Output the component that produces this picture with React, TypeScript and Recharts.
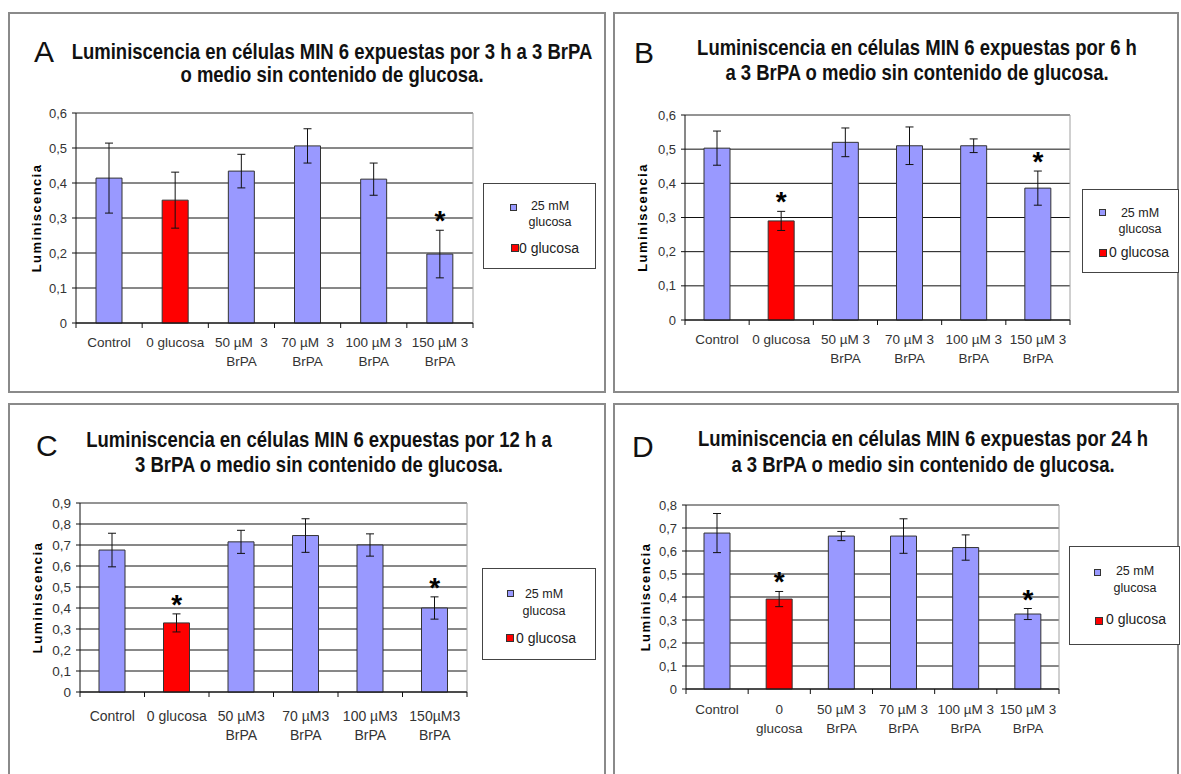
import React from 'react';
import { ComposedChart, Bar, Cell, ErrorBar, Line, XAxis, YAxis, CartesianGrid, ReferenceLine } from 'recharts';

const FONT = '"Liberation Sans", Arial, Helvetica, sans-serif';
const BLUE = '#9999ff';
const RED = '#ff0000';

// which series each bar belongs to (same order in every panel)
const groups = ['25 mM glucosa', '0 glucosa', '25 mM glucosa', '25 mM glucosa', '25 mM glucosa', '25 mM glucosa'];

// panel A - 3 h
const catsA = ['Control', '0 glucosa', '50 µM  3\nBrPA', '70 µM  3\nBrPA', '100 µM 3\nBrPA', '150 µM 3\nBrPA'];
const valsA = [0.414, 0.351, 0.434, 0.506, 0.411, 0.197];
const errA = [0.1, 0.08, 0.048, 0.049, 0.046, 0.068];
const starsA = [false, false, false, false, false, true];
const yTicksA = [0, 0.1, 0.2, 0.3, 0.4, 0.5, 0.6];

// panel B - 6 h
const catsB = ['Control', '0 glucosa', '50 µM 3\nBrPA', '70 µM 3\nBrPA', '100 µM 3\nBrPA', '150 µM 3\nBrPA'];
const valsB = [0.503, 0.29, 0.52, 0.51, 0.51, 0.386];
const errB = [0.05, 0.028, 0.042, 0.055, 0.02, 0.05];
const starsB = [false, true, false, false, false, true];
const yTicksB = [0, 0.1, 0.2, 0.3, 0.4, 0.5, 0.6];

// panel C - 12 h
const catsC = ['Control', '0 glucosa', '50 µM3\nBrPA', '70 µM3\nBrPA', '100 µM3\nBrPA', '150µM3\nBrPA'];
const valsC = [0.676, 0.329, 0.715, 0.745, 0.7, 0.4];
const errC = [0.08, 0.043, 0.055, 0.08, 0.053, 0.053];
const starsC = [false, true, false, false, false, true];
const yTicksC = [0, 0.1, 0.2, 0.3, 0.4, 0.5, 0.6, 0.7, 0.8, 0.9];

// panel D - 24 h
const catsD = ['Control', '0\nglucosa', '50 µM 3\nBrPA', '70 µM 3\nBrPA', '100 µM 3\nBrPA', '150 µM 3\nBrPA'];
const valsD = [0.678, 0.391, 0.665, 0.665, 0.615, 0.326];
const errD = [0.085, 0.033, 0.02, 0.075, 0.055, 0.024];
const starsD = [false, true, false, false, false, true];
const yTicksD = [0, 0.1, 0.2, 0.3, 0.4, 0.5, 0.6, 0.7, 0.8];

const buildRows = (cats: string[], vals: number[], errs: number[], stars: boolean[]) =>
    cats.map((name, i) => ({
        name,
        value: vals[i],
        err: errs[i],
        star: stars[i] ? vals[i] + errs[i] : null,
        group: groups[i],
    }));

// category label, plus the excel-style tick marks between categories
const CatTick = (props: any) => {
    const { x, y, payload, index, visibleTicksCount, dy, gap, fontSize, band } = props;
    const lines = String(payload.value).split('\n');
    const last = index === (visibleTicksCount ?? 6) - 1;
    return (
        <g>
            <line x1={x - band / 2} x2={x - band / 2} y1={y} y2={y + 5} stroke="#111" />
            {last && <line x1={x + band / 2} x2={x + band / 2} y1={y} y2={y + 5} stroke="#111" />}
            <text x={x} y={y + dy} textAnchor="middle" fontSize={fontSize} fill="#333" fontFamily={FONT} style={{ whiteSpace: 'pre' }}>
                {lines.map((ln, i) => (
                    <tspan key={i} x={x} dy={i === 0 ? 0 : gap}>{ln}</tspan>
                ))}
            </text>
        </g>
    );
};

const StarDot = (props: any) => {
    const { cx, cy, payload, index } = props;
    if (payload == null || payload.star == null || cy == null) return <g key={`s-${index}`} />;
    return (
        <text key={`s-${index}`} x={cx} y={cy} textAnchor="middle" fontSize={28} fontWeight="bold" fill="#000" fontFamily={FONT}>*</text>
    );
};

interface PanelCfg {
    letter: string;
    title: string[];
    box: { x: number; y: number; w: number; h: number };
    letterPos: { x: number; y: number };
    titleCx: number;
    titleY: number[];
    plot: { l: number; t: number; r: number; b: number };
    rows: any[];
    yTicks: number[];
    ylabOff: number;
    xDy: number;
    fs: number;
    legend: { x: number; y: number; w: number; h: number; sq1: number[]; t1: number[]; sq2: number[]; t2: number[] };
}

const Legend2 = ({ lg }: { lg: PanelCfg['legend'] }) => (
    <div style={{ position: 'absolute', left: lg.x, top: lg.y, width: lg.w, height: lg.h, border: '1px solid #444', background: '#fff', boxSizing: 'border-box', fontFamily: FONT, color: '#222' }}>
        <div style={{ position: 'absolute', left: lg.sq1[0], top: lg.sq1[1], width: 5, height: 5, background: BLUE, border: '1px solid #333' }} />
        <div style={{ position: 'absolute', left: lg.t1[0] - 40, width: 80, top: lg.t1[1] - 8, fontSize: 12.5, lineHeight: '16px', textAlign: 'center' }}>25 mM</div>
        <div style={{ position: 'absolute', left: lg.t1[0] - 40, width: 80, top: lg.t1[2] - 8, fontSize: 12.5, lineHeight: '16px', textAlign: 'center' }}>glucosa</div>
        <div style={{ position: 'absolute', left: lg.sq2[0], top: lg.sq2[1], width: 6, height: 6, background: RED, border: '1px solid #333' }} />
        <div style={{ position: 'absolute', left: lg.t2[0], top: lg.t2[1] - 9, fontSize: 14, lineHeight: '18px', whiteSpace: 'nowrap' }}>0 glucosa</div>
    </div>
);

const Panel = ({ cfg }: { cfg: PanelCfg }) => {
    const { plot } = cfg;
    const W = plot.r - plot.l + 70;
    const H = plot.b - plot.t + 80;
    const band = (plot.r - plot.l) / cfg.rows.length;
    const yMax = cfg.yTicks[cfg.yTicks.length - 1];
    return (
        <>
            <div style={{ position: 'absolute', left: cfg.box.x, top: cfg.box.y, width: cfg.box.w, height: cfg.box.h, border: '2px solid #8a8a8a', boxSizing: 'border-box' }} />
            <div style={{ position: 'absolute', left: cfg.letterPos.x, top: cfg.letterPos.y - 15, fontSize: 30, lineHeight: '30px', fontFamily: FONT, color: '#111' }}>{cfg.letter}</div>
            {cfg.title.map((t, i) => (
                <div key={i} style={{ position: 'absolute', left: cfg.titleCx - 350, width: 700, top: cfg.titleY[i] - 13, textAlign: 'center', fontFamily: FONT, fontWeight: 'bold', fontSize: 21.5, lineHeight: '26px', whiteSpace: 'nowrap', transform: 'scaleX(0.86)', color: '#111' }}>{t}</div>
            ))}
            <div style={{ position: 'absolute', left: plot.l - 60, top: plot.t - 20 }}>
                <ComposedChart width={W} height={H} data={cfg.rows} margin={{ top: 20, right: 10, left: 5, bottom: 10 }} barCategoryGap="0%">
                    <CartesianGrid vertical={false} stroke="#111" />
                    <CartesianGrid horizontal={false} verticalPoints={[plot.r - plot.l + 60]} stroke="#a0a0a0" />
                    <ReferenceLine y={yMax} stroke="#a0a0a0" />
                    <XAxis
                        dataKey="name"
                        interval={0}
                        height={50}
                        tickLine={false}
                        tickSize={0}
                        tickMargin={0}
                        axisLine={{ stroke: '#111' }}
                        tick={<CatTick dy={cfg.xDy} gap={19} fontSize={cfg.fs + 0.5} band={band} />}
                    />
                    <YAxis
                        type="number"
                        domain={[0, yMax]}
                        ticks={cfg.yTicks}
                        interval={0}
                        width={55}
                        tickSize={4}
                        tickMargin={5}
                        tickLine={{ stroke: '#111' }}
                        axisLine={{ stroke: '#111' }}
                        tick={{ fontSize: cfg.fs, fill: '#333', fontFamily: FONT }}
                        tickFormatter={(v: number) => String(v).replace('.', ',')}
                        label={{ value: 'Luminiscencia', angle: -90, position: 'insideLeft', offset: cfg.ylabOff, style: { textAnchor: 'middle', fontWeight: 'bold', fontSize: cfg.fs, letterSpacing: 1.4, fill: '#000', fontFamily: FONT } }}
                    />
                    <Bar dataKey="value" barSize={26} stroke="#333" strokeWidth={1} isAnimationActive={false}>
                        {cfg.rows.map((r, i) => (
                            <Cell key={`c-${i}`} fill={r.group === '0 glucosa' ? RED : BLUE} />
                        ))}
                        <ErrorBar dataKey="err" width={4} stroke="#111" strokeWidth={1} direction="y" />
                    </Bar>
                    <Line dataKey="star" stroke="none" dot={StarDot} activeDot={false} isAnimationActive={false} legendType="none" />
                </ComposedChart>
            </div>
            <Legend2 lg={cfg.legend} />
        </>
    );
};

const panels: PanelCfg[] = [
    {
        letter: 'A',
        title: ['Luminiscencia en células MIN 6 expuestas por 3 h a 3 BrPA', 'o medio sin contenido de glucosa.'],
        box: { x: 8, y: 12, w: 598, h: 381 },
        letterPos: { x: 34, y: 52 },
        titleCx: 332,
        titleY: [52, 75],
        plot: { l: 76, t: 113, r: 473, b: 323 },
        rows: buildRows(catsA, valsA, errA, starsA),
        yTicks: yTicksA,
        ylabOff: 15,
        xDy: 24,
        fs: 13,
        legend: { x: 483, y: 183, w: 113, h: 86, sq1: [26, 20], t1: [66, 22, 38], sq2: [27, 60], t2: [35, 64] },
    },
    {
        letter: 'B',
        title: ['Luminiscencia en células MIN 6 expuestas por 6 h', 'a 3 BrPA o medio sin contenido de glucosa.'],
        box: { x: 613, y: 12, w: 566, h: 381 },
        letterPos: { x: 634, y: 53 },
        titleCx: 917,
        titleY: [48, 73],
        plot: { l: 685, t: 115, r: 1070, b: 320 },
        rows: buildRows(catsB, valsB, errB, starsB),
        yTicks: yTicksB,
        ylabOff: 12,
        xDy: 24,
        fs: 13,
        legend: { x: 1082, y: 189, w: 97, h: 84, sq1: [16, 19], t1: [57, 23, 39], sq2: [16, 59], t2: [26, 62] },
    },
    {
        letter: 'C',
        title: ['Luminiscencia en células MIN 6 expuestas por 12 h a', '3 BrPA o medio sin contenido de glucosa.'],
        box: { x: 8, y: 403, w: 598, h: 390 },
        letterPos: { x: 36, y: 446 },
        titleCx: 319,
        titleY: [440, 465],
        plot: { l: 80, t: 503, r: 467, b: 692 },
        rows: buildRows(catsC, valsC, errC, starsC),
        yTicks: yTicksC,
        ylabOff: 12,
        xDy: 29,
        fs: 13.5,
        legend: { x: 482, y: 568, w: 114, h: 92, sq1: [24, 21], t1: [61, 25, 42], sq2: [23, 65], t2: [33, 69] },
    },
    {
        letter: 'D',
        title: ['Luminiscencia en células MIN 6 expuestas por 24 h', 'a 3 BrPA o medio sin contenido de glucosa.'],
        box: { x: 613, y: 403, w: 566, h: 390 },
        letterPos: { x: 632, y: 447 },
        titleCx: 923,
        titleY: [439, 465],
        plot: { l: 686, t: 505, r: 1059, b: 689 },
        rows: buildRows(catsD, valsD, errD, starsD),
        yTicks: yTicksD,
        ylabOff: 14,
        xDy: 25,
        fs: 13,
        legend: { x: 1069, y: 546, w: 111, h: 99, sq1: [24, 22], t1: [65, 24, 41], sq2: [25, 70], t2: [36, 72] },
    },
];

export default function App() {
    return (
        <div style={{ position: 'absolute', left: 0, top: 0, width: 1181, height: 774, overflow: 'hidden', background: '#fff', fontFamily: FONT }}>
            {panels.map((p) => (
                <Panel key={p.letter} cfg={p} />
            ))}
        </div>
    );
}
